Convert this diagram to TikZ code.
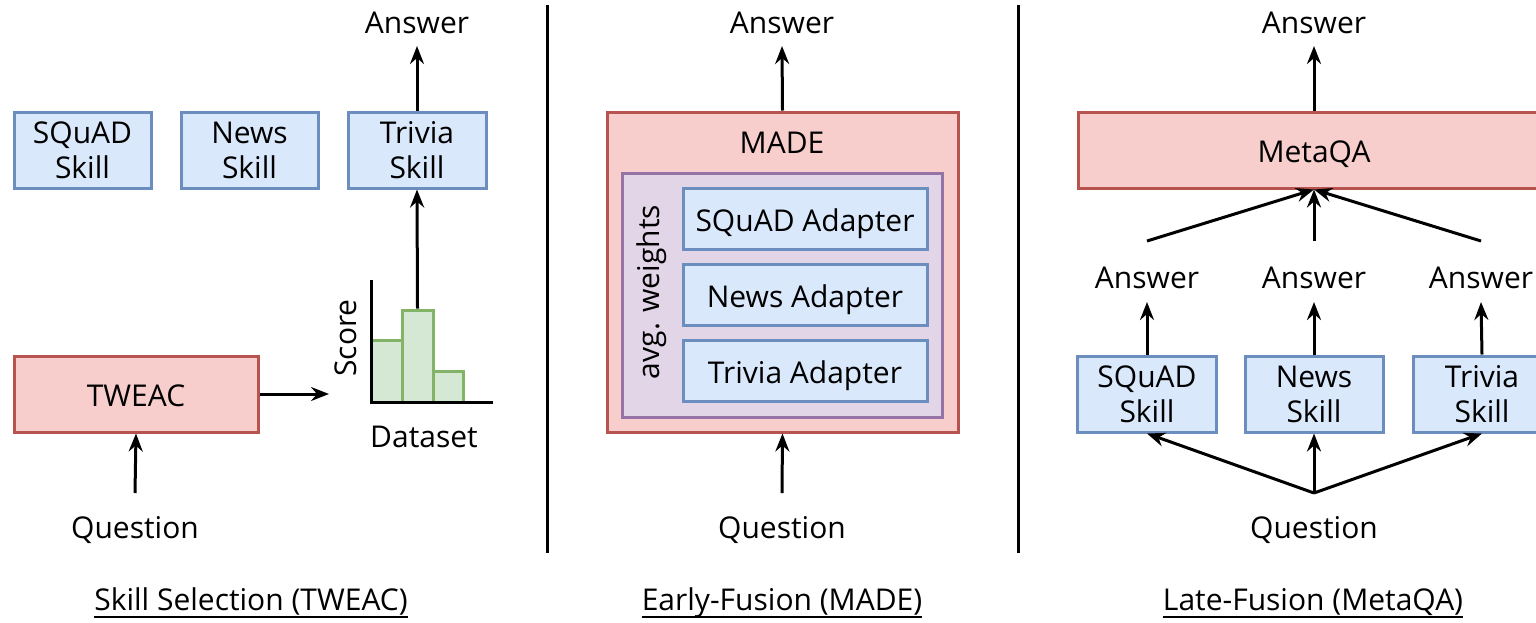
\documentclass[tikz,border=0pt]{standalone}
\usepackage{fontspec}
\setmainfont{Open Sans}
\usetikzlibrary{arrows.meta}
\definecolor{bluefill}{HTML}{DAE8FC}
\definecolor{blueline}{HTML}{6C8EBF}
\definecolor{redfill}{HTML}{F8CECC}
\definecolor{redline}{HTML}{B85450}
\definecolor{purplefill}{HTML}{E1D5E7}
\definecolor{purpleline}{HTML}{9673A6}
\definecolor{greenfill}{HTML}{D5E8D4}
\definecolor{greenline}{HTML}{82B366}

\begin{document}
\begin{tikzpicture}[x=1pt,y=-1pt,
  every node/.style={font=\fontsize{30}{35}\selectfont},
  skill/.style={draw=blueline, fill=bluefill, line width=3pt, align=center, inner sep=0pt},
  model/.style={draw=redline, fill=redfill, line width=3pt, inner sep=0pt},
  pool/.style={draw=purpleline, fill=purplefill, line width=3pt, inner sep=0pt},
  bar/.style={draw=greenline, fill=greenfill, line width=3pt, inner sep=0pt},
  oneline/.style={text height=24pt, text depth=0pt},
  adapter/.style={skill, text height=26pt, text depth=0pt, minimum width=244, minimum height=61},
  lbl/.style={anchor=base, inner sep=0pt},
  arr/.style={-{Stealth[length=18pt,width=14pt,inset=6pt]}, line width=3pt},
  plain/.style={line width=3pt},
  uline/.style={line width=2pt},
]
\useasboundingbox (0,0) rectangle (1536,622);
\clip (0,0) rectangle (1536,622);

% ---------- Skill selection (TWEAC) ----------
\node[skill, minimum width=137, minimum height=76] (sqL) at (82.5,150) {SQuAD\\Skill};
\node[skill, minimum width=137, minimum height=76] (nwL) at (249.5,150) {News\\Skill};
\node[skill, minimum width=138, minimum height=76] (trL) at (417,150) {Trivia\\Skill};
\node[lbl] (ansL) at (417,33) {Answer};
\coordinate (ansLin) at (417,46);
\draw[arr] (trL.north) -- (ansLin);

\node[model, oneline, minimum width=244, minimum height=76] (tweac) at (136,394) {TWEAC};
\node[lbl] (qL) at (135,538) {Question};
\coordinate (qLout) at (135,493);
\draw[arr] (qLout) -- (tweac.south);

% score histogram
\node[bar, minimum width=31, minimum height=62] (b1) at (386.5,371) {};
\node[bar, minimum width=31, minimum height=92] (b2) at (417.5,356) {};
\node[bar, minimum width=30, minimum height=31] (b3) at (448,386.5) {};
\draw[plain] (371,280) -- (371,402) -- (493,402);
\node[rotate=90, inner sep=0pt] (score) at (346,338) {Score};
\node[lbl] (dataset) at (424,447) {Dataset};
\coordinate (chartIn) at (329,394);
\draw[arr] (tweac.east) -- (chartIn);
\draw[arr] (b2.north) -- (trL.south);

% ---------- separators ----------
\draw[plain] (547,5) -- (547,553);
\draw[plain] (1018,5) -- (1018,553);

% ---------- Early fusion (MADE) ----------
\node[model, minimum width=351, minimum height=320] (made) at (782.5,272) {};
\node[inner sep=0pt] (madeT) at (782,143) {MADE};
\node[pool, minimum width=320, minimum height=244] (avg) at (782,295) {};
\node[rotate=90, inner sep=0pt] (avgT) at (652,292) {avg. weights};
\node[adapter] (adS) at (805,218.5) {SQuAD Adapter};
\node[adapter] (adN) at (805,294.5) {News Adapter};
\node[adapter] (adT) at (805,370.5) {Trivia Adapter};
\node[lbl] (ansM) at (782,33) {Answer};
\coordinate (ansMin) at (782,46);
\draw[arr] (made.north) -- (ansMin);
\node[lbl] (qM) at (782,538) {Question};
\coordinate (qMout) at (782,493);
\draw[arr] (qMout) -- (made.south);

% ---------- Late fusion (MetaQA) ----------
\node[model, oneline, minimum width=472, minimum height=76] (meta) at (1314,150) {MetaQA};
\node[lbl] (ansR) at (1314,33) {Answer};
\coordinate (ansRin) at (1314,46);
\draw[arr] (meta.north) -- (ansRin);

\node[skill, minimum width=139, minimum height=76] (sqR) at (1147,394) {SQuAD\\Skill};
\node[skill, minimum width=138, minimum height=76] (nwR) at (1314,394) {News\\Skill};
\node[skill, minimum width=138, minimum height=76] (trR) at (1482,394) {Trivia\\Skill};

\node[lbl] (a1) at (1147,288) {Answer};
\node[lbl] (a2) at (1314,288) {Answer};
\node[lbl] (a3) at (1481,288) {Answer};
\coordinate (a1in) at (1147,302);
\coordinate (a2in) at (1314,302);
\coordinate (a3in) at (1481,302);
\draw[arr] (sqR.north) -- (a1in);
\draw[arr] (nwR.north) -- (a2in);
\draw[arr] (trR.north) -- (a3in);

\coordinate (a1out) at (1147,241);
\coordinate (a2out) at (1314,241);
\coordinate (a3out) at (1481,241);
\draw[arr] (a1out) -- (meta.south);
\draw[arr] (a2out) -- (meta.south);
\draw[arr] (a3out) -- (meta.south);

\node[lbl] (qR) at (1314,538) {Question};
\coordinate (qRout) at (1314,493);
\draw[arr] (qRout) -- (sqR.south);
\draw[arr] (qRout) -- (nwR.south);
\draw[arr] (qRout) -- (trR.south);

% ---------- captions ----------
\node[lbl] (c1) at (251,610) {Skill Selection (TWEAC)};
\node[lbl] (c2) at (782,610) {Early-Fusion (MADE)};
\node[lbl] (c3) at (1313,610) {Late-Fusion (MetaQA)};
\draw[uline] ([yshift=-7pt]c1.base west) -- ([yshift=-7pt]c1.base east);
\draw[uline] ([yshift=-7pt]c2.base west) -- ([yshift=-7pt]c2.base east);
\draw[uline] ([yshift=-7pt]c3.base west) -- ([yshift=-7pt]c3.base east);
\end{tikzpicture}
\end{document}
